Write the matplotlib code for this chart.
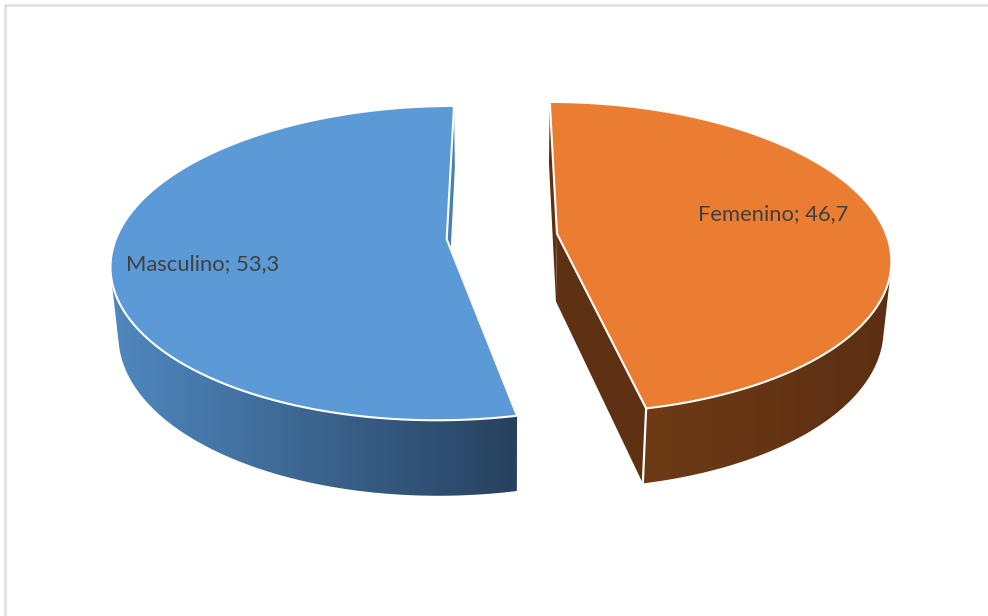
import numpy as np
import matplotlib
matplotlib.use("Agg")
import matplotlib.pyplot as plt
from matplotlib.colors import LinearSegmentedColormap
from matplotlib.patches import Polygon

# categories and values
categories = ["Masculino", "Femenino"]
values = [53.3, 46.7]
top_colors = ["#5B9AD6", "#EB7D32"]
side_left = ["#4F88BF", "#6E3A16"]
side_right = ["#27415F", "#5C2F12"]
face_colors = ["#4A7FB5", "#5E3112"]
label_pos = [(126, 264), (698, 214)]

# camera for the 3d pie, all in pixels
cx, cy = 502, 236.5
rx, ry = 330, 152.7
persp = 0.152
persp_z = 0.02
depth = 69
explode = 0.168


def project(X, Y, h=0.0):
    w = 1 + persp * Y + persp_z * h
    return cx + rx * X / w, cy + (-ry * Y + depth * h) / w


def hull(pts):
    # monotone chain, wall silhouette is the outline of rim top + rim bottom
    pts = sorted(map(tuple, pts))
    def half(seq):
        out = []
        for p in seq:
            while len(out) > 1 and ((out[-1][0] - out[-2][0]) * (p[1] - out[-2][1])
                                    - (out[-1][1] - out[-2][1]) * (p[0] - out[-2][0])) <= 0:
                out.pop()
            out.append(p)
        return out[:-1]
    return np.array(half(pts) + half(pts[::-1]))


# wedges run clockwise from 12 o'clock, orange first
fracs = np.array(values) / sum(values) * 360
starts = {1: 0.0, 0: fracs[1]}
ends = {1: fracs[1], 0: 360.0}

fig = plt.figure(figsize=(9.88, 6.16), dpi=100)
ax = fig.add_axes([0, 0, 1, 1])

# chart frame
ax.plot([5, 5, 988], [616, 5, 5], color="#DEDEDE", lw=1.8, solid_joinstyle="miter")

for i in [0, 1]:
    a0, a1 = starts[i], ends[i]
    mid = np.radians((a0 + a1) / 2)
    ox, oy = explode * np.sin(mid), explode * np.cos(mid)
    t = np.radians(np.linspace(a0, a1, 241))
    X = ox + np.sin(t)
    Y = oy + np.cos(t)

    # cut faces
    for k in [-1, 0]:
        qx, qy = zip(project(ox, oy), project(X[k], Y[k]),
                     project(X[k], Y[k], 1), project(ox, oy, 1))
        ax.fill(qx, qy, color=face_colors[i], lw=0, zorder=2)

    # outer wall, gradient left to right clipped to the wall outline
    xt, yt = project(X, Y)
    xb, yb = project(X, Y, 1)
    front = Y < oy + 0.3
    wall = hull(np.c_[np.r_[xt[front], xb[front]], np.r_[yt[front], yb[front]]])
    cmap = LinearSegmentedColormap.from_list("wall", [side_left[i], side_right[i]])
    im = ax.imshow(np.linspace(0, 1, 256)[None, :], cmap=cmap, aspect="auto",
                   extent=[wall[:, 0].min(), wall[:, 0].max(), 616, 0], zorder=3)
    patch = Polygon(wall, closed=True, transform=ax.transData, fc="none", ec="none")
    ax.add_patch(patch)
    im.set_clip_path(patch)

    # white seam at the wedge front corner
    if i == 1:
        ax.plot([xt[-1], xb[-1]], [yt[-1], yb[-1]], color="white", lw=1.6, zorder=4)

    # top
    ax0, ay0 = project(ox, oy)
    ax.fill(np.r_[ax0, xt], np.r_[ay0, yt], facecolor=top_colors[i],
            edgecolor="white", lw=1.5, joinstyle="miter", zorder=5)
    ax.text(label_pos[i][0], label_pos[i][1], f"{categories[i]}; {values[i]}".replace(".", ","),
            family="Lato", fontsize=15.8, color="#404040", va="center", ha="left", zorder=6)

ax.set_xlim(0, 988)
ax.set_ylim(616, 0)
ax.axis("off")

fig.savefig("out.png", dpi=100)
